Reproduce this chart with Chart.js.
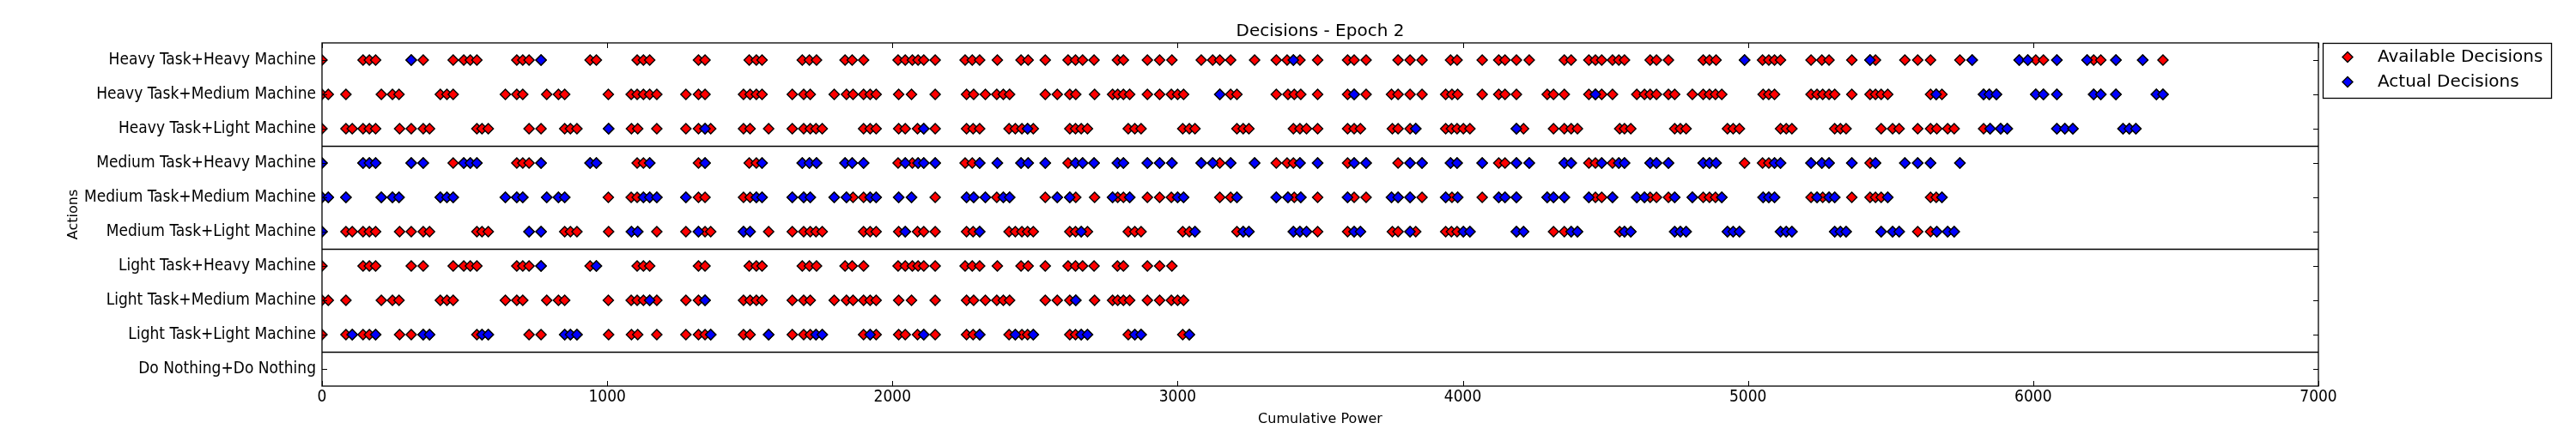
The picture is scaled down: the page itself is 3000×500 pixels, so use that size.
<!DOCTYPE html>
<html>
<head>
<meta charset="utf-8">
<title>Decisions - Epoch 2</title>
<script src="https://cdn.jsdelivr.net/npm/chart.js@4.4.1/dist/chart.umd.min.js"></script>
<style>
  html, body { margin: 0; padding: 0; background: #fff; }
</style>
</head>
<body>
<canvas id="decisionsChart" width="3000" height="500"></canvas>
<script>
// rows from bottom (index 0) to top
const actions = [
  'Do Nothing+Do Nothing',
  'Light Task+Light Machine',
  'Light Task+Medium Machine',
  'Light Task+Heavy Machine',
  'Medium Task+Light Machine',
  'Medium Task+Medium Machine',
  'Medium Task+Heavy Machine',
  'Heavy Task+Light Machine',
  'Heavy Task+Medium Machine',
  'Heavy Task+Heavy Machine'
];

const tasks = ['Light Task', 'Medium Task', 'Heavy Task'];
// last cumulative power at which the task was still on offer
const taskLastPower = [3050, 5760, 7000];
const machines = ['Light Machine', 'Medium Machine', 'Heavy Machine'];

// cumulative power at which each machine type showed up as a choice
const lightMachinePower = [
  0, 84, 106, 144, 166, 188, 272, 313, 355, 377, 543, 561, 583, 726, 768, 851, 871, 894,
  1005, 1085, 1107, 1174, 1276, 1320, 1343, 1363, 1478, 1501, 1566, 1649, 1689, 1712, 1732,
  1754, 1899, 1922, 1943, 2022, 2045, 2088, 2110, 2150, 2260, 2283, 2306, 2409, 2431, 2454,
  2474, 2494, 2622, 2642, 2662, 2684, 2827, 2850, 2872, 3018, 3041, 3061, 3208, 3230, 3250,
  3406, 3429, 3452, 3491, 3596, 3619, 3641, 3753, 3773, 3815, 3835, 3940, 3960, 3980, 4002,
  4025, 4188, 4213, 4318, 4356, 4380, 4402, 4550, 4567, 4589, 4743, 4763, 4783, 4928, 4948,
  4970, 5114, 5134, 5154, 5304, 5324, 5344, 5467, 5507, 5530, 5595, 5640, 5662, 5700, 5723,
  5826, 5849, 5886, 5909, 6083, 6111, 6139, 6315, 6337, 6360
];
const mediumMachinePower = [
  0, 22, 84, 208, 247, 270, 415, 438, 460, 643, 683, 704, 788, 829, 851, 1004, 1084, 1105,
  1127, 1149, 1174, 1276, 1320, 1343, 1478, 1501, 1523, 1543, 1649, 1689, 1712, 1796, 1839,
  1862, 1899, 1922, 1943, 2022, 2067, 2150, 2260, 2285, 2326, 2366, 2389, 2411, 2536, 2578,
  2622, 2643, 2709, 2772, 2790, 2810, 2832, 2894, 2937, 2978, 3000, 3021, 3148, 3186, 3208,
  3346, 3387, 3409, 3432, 3491, 3596, 3619, 3661, 3750, 3773, 3815, 3857, 3940, 3962, 3982,
  4068, 4126, 4148, 4188, 4296, 4318, 4356, 4442, 4465, 4487, 4525, 4610, 4637, 4657, 4679,
  4721, 4743, 4805, 4843, 4865, 4886, 4908, 5053, 5073, 5093, 5221, 5242, 5262, 5284, 5304,
  5364, 5428, 5447, 5467, 5490, 5640, 5660, 5680, 5826, 5846, 5871, 6009, 6036, 6083, 6212,
  6237, 6290, 6432, 6455
];
const heavyMachinePower = [
  0, 144, 166, 188, 313, 355, 460, 497, 520, 543, 683, 704, 726, 768, 940, 962, 1105, 1127,
  1149, 1320, 1343, 1498, 1523, 1543, 1684, 1709, 1734, 1834, 1859, 1899, 2020, 2045, 2070,
  2090, 2110, 2150, 2255, 2280, 2306, 2368, 2451, 2476, 2536, 2616, 2642, 2667, 2707, 2789,
  2810, 2894, 2937, 2980, 3083, 3123, 3148, 3186, 3270, 3346, 3384, 3406, 3429, 3491, 3596,
  3619, 3661, 3773, 3815, 3857, 3957, 3980, 4068, 4126, 4148, 4188, 4233, 4356, 4380, 4442,
  4465, 4487, 4525, 4547, 4567, 4657, 4679, 4721, 4843, 4865, 4888, 4988, 5051, 5073, 5093,
  5114, 5221, 5259, 5284, 5364, 5428, 5447, 5550, 5595, 5640, 5743, 5786, 5951, 5981, 6009,
  6036, 6083, 6189, 6212, 6237, 6290, 6384, 6455
];

// decisions actually taken, per action
const actualLightLight = [
  106, 188, 355, 377, 561, 583, 851, 871, 894, 1363, 1566, 1732, 1754, 1922, 2110, 2306,
  2431, 2494, 2662, 2684, 2850, 2872, 3041
];
const actualLightMedium = [1149, 1343, 2643];
const actualLightHeavy = [768, 962];
const actualMediumLight = [
  0, 726, 768, 1085, 1107, 1320, 1478, 1501, 2045, 2306, 2662, 3061, 3230, 3250, 3406, 3429,
  3452, 3619, 3641, 3815, 4002, 4025, 4188, 4213, 4380, 4402, 4567, 4589, 4743, 4763, 4783,
  4928, 4948, 4970, 5114, 5134, 5154, 5304, 5324, 5344, 5467, 5507, 5530, 5662, 5700, 5723
];
const actualMediumMedium = [
  0, 22, 84, 208, 247, 270, 415, 438, 460, 643, 683, 704, 788, 829, 851, 1127, 1149, 1174,
  1276, 1523, 1543, 1649, 1689, 1712, 1796, 1839, 1922, 1943, 2022, 2067, 2260, 2285, 2326,
  2389, 2411, 2578, 2622, 2772, 2832, 3000, 3021, 3208, 3346, 3387, 3432, 3596, 3750, 3773,
  3815, 3940, 3982, 4126, 4148, 4188, 4296, 4318, 4356, 4442, 4525, 4610, 4637, 4743, 4805,
  4908, 5053, 5073, 5093, 5242, 5284, 5304, 5490, 5680
];
const actualMediumHeavy = [
  0, 144, 166, 188, 313, 355, 497, 520, 543, 768, 940, 962, 1149, 1343, 1543, 1684, 1709,
  1734, 1834, 1859, 1899, 2045, 2090, 2110, 2150, 2306, 2368, 2451, 2476, 2536, 2642, 2667,
  2707, 2789, 2810, 2894, 2937, 2980, 3083, 3123, 3186, 3270, 3429, 3491, 3619, 3661, 3815,
  3857, 3957, 3980, 4068, 4188, 4233, 4356, 4380, 4487, 4547, 4567, 4657, 4679, 4721, 4843,
  4865, 4888, 5093, 5114, 5221, 5259, 5284, 5364, 5447, 5550, 5595, 5640, 5743
];
const actualHeavyLight = [
  1005, 1343, 2110, 2474, 3835, 4188, 5849, 5886, 5909, 6083, 6111, 6139, 6315, 6337, 6360
];
const actualHeavyMedium = [
  3148, 3619, 4465, 5660, 5826, 5846, 5871, 6009, 6036, 6083, 6212, 6237, 6290, 6432, 6455
];
const actualHeavyHeavy = [
  313, 768, 3406, 4988, 5428, 5786, 5951, 5981, 6083, 6189, 6290, 6384
];

const powerTicks = [0, 1000, 2000, 3000, 4000, 5000, 6000, 7000];
// lines drawn between the task groups
const groupBreaks = [0.5, 3.5, 6.5];

const machinePower = [lightMachinePower, mediumMachinePower, heavyMachinePower];
const actualByAction = [
  [],
  actualLightLight, actualLightMedium, actualLightHeavy,
  actualMediumLight, actualMediumMedium, actualMediumHeavy,
  actualHeavyLight, actualHeavyMedium, actualHeavyHeavy
];

const available = [];
tasks.forEach((task, t) => {
  machines.forEach((machine, m) => {
    const row = actions.indexOf(task + '+' + machine);
    machinePower[m]
      .filter(p => p <= taskLastPower[t])
      .forEach(p => available.push({ x: p, y: row }));
  });
});

const actual = [];
actualByAction.forEach((list, row) => {
  list.forEach(p => actual.push({ x: p, y: row }));
});

const tickFont = { family: "'DejaVu Sans Condensed', 'DejaVu Sans', sans-serif", size: 19 };
const textFont = { family: "'DejaVu Sans', sans-serif" };

function diamond(ctx, x, y, r, fill) {
  ctx.beginPath();
  ctx.moveTo(x - r, y);
  ctx.lineTo(x, y - r);
  ctx.lineTo(x + r, y);
  ctx.lineTo(x, y + r);
  ctx.closePath();
  ctx.fillStyle = fill;
  ctx.fill();
  ctx.lineWidth = 1.4;
  ctx.strokeStyle = '#000';
  ctx.stroke();
}

// frame, inward ticks, group lines and boxed legend (matplotlib look)
const axesDecor = {
  id: 'axesDecor',
  afterDatasetsDraw(chart) {
    const { ctx, chartArea: a, scales } = chart;
    ctx.save();
    ctx.strokeStyle = '#000';
    ctx.lineWidth = 1.3;
    groupBreaks.forEach(v => {
      const y = Math.round(scales.y.getPixelForValue(v)) + 0.5;
      ctx.beginPath();
      ctx.moveTo(a.left, y);
      ctx.lineTo(a.right, y);
      ctx.stroke();
    });
    ctx.strokeRect(a.left, a.top, a.right - a.left, a.bottom - a.top);

    ctx.lineWidth = 1;
    ctx.beginPath();
    actions.forEach((_, i) => {
      const y = Math.round(scales.y.getPixelForValue(i)) + 0.5;
      ctx.moveTo(a.left, y); ctx.lineTo(a.left + 6, y);
      ctx.moveTo(a.right, y); ctx.lineTo(a.right - 6, y);
    });
    powerTicks.forEach(v => {
      const x = Math.round(scales.x.getPixelForValue(v)) + 0.5;
      ctx.moveTo(x, a.top); ctx.lineTo(x, a.top + 6);
      ctx.moveTo(x, a.bottom); ctx.lineTo(x, a.bottom - 6);
    });
    ctx.stroke();
    ctx.restore();
  },
  afterDraw(chart) {
    const { ctx, chartArea: a } = chart;
    const left = a.right + 5;
    const top = a.top;
    ctx.save();
    ctx.fillStyle = '#fff';
    ctx.fillRect(left, top, 266, 64);
    ctx.strokeStyle = '#000';
    ctx.lineWidth = 1.3;
    ctx.strokeRect(left + 0.5, top + 0.5, 266, 64);
    ctx.font = "20px 'DejaVu Sans', sans-serif";
    ctx.textBaseline = 'middle';
    chart.data.datasets.forEach((ds, i) => {
      const y = top + 16.5 + i * 29;
      diamond(ctx, left + 29, y, 6, ds.backgroundColor);
      ctx.fillStyle = '#000';
      ctx.fillText(ds.label, left + 64, y);
    });
    ctx.restore();
  }
};

const markerStyle = {
  borderColor: '#000000',
  borderWidth: 1.4,
  pointStyle: 'rectRot',
  pointRadius: 6,
  pointHoverRadius: 6,
  clip: 0
};

new Chart(document.getElementById('decisionsChart').getContext('2d'), {
  type: 'scatter',
  data: {
    datasets: [
      Object.assign({ label: 'Available Decisions', data: available, backgroundColor: '#ff0000', order: 1 }, markerStyle),
      Object.assign({ label: 'Actual Decisions', data: actual, backgroundColor: '#0000ff', order: 0 }, markerStyle)
    ]
  },
  options: {
    responsive: false,
    devicePixelRatio: 1,
    animation: false,
    events: [],
    layout: { padding: { left: 0, right: 300, top: 0, bottom: 0 } },
    plugins: {
      legend: { display: false },
      tooltip: { enabled: false },
      title: {
        display: true,
        text: 'Decisions - Epoch 2',
        fullSize: false,
        color: '#000',
        font: Object.assign({ size: 20, weight: 'normal' }, textFont),
        padding: { top: 25, bottom: 1 }
      }
    },
    scales: {
      x: {
        type: 'linear',
        min: 0,
        max: 7000,
        afterBuildTicks: s => { s.ticks = powerTicks.map(v => ({ value: v })); },
        afterFit: s => { s.height = 50; },
        grid: { display: false, drawTicks: false },
        border: { display: false },
        ticks: { color: '#000', font: tickFont, padding: 2, maxRotation: 0, callback: v => String(v) },
        title: {
          display: true,
          text: 'Cumulative Power',
          color: '#000',
          font: Object.assign({ size: 16 }, textFont),
          padding: { top: 0, bottom: 2 }
        }
      },
      y: {
        type: 'linear',
        min: -0.5,
        max: 9.5,
        afterBuildTicks: s => { s.ticks = actions.map((_, i) => ({ value: i })); },
        afterFit: s => { s.width = 375; },
        grid: { display: false, drawTicks: false },
        border: { display: false },
        ticks: { color: '#000', font: tickFont, padding: 7, autoSkip: false, callback: v => actions[v] },
        title: {
          display: true,
          text: 'Actions',
          color: '#000',
          font: Object.assign({ size: 16 }, textFont),
          padding: { top: 76, bottom: 0 }
        }
      }
    }
  },
  plugins: [axesDecor]
});
</script>
</body>
</html>
